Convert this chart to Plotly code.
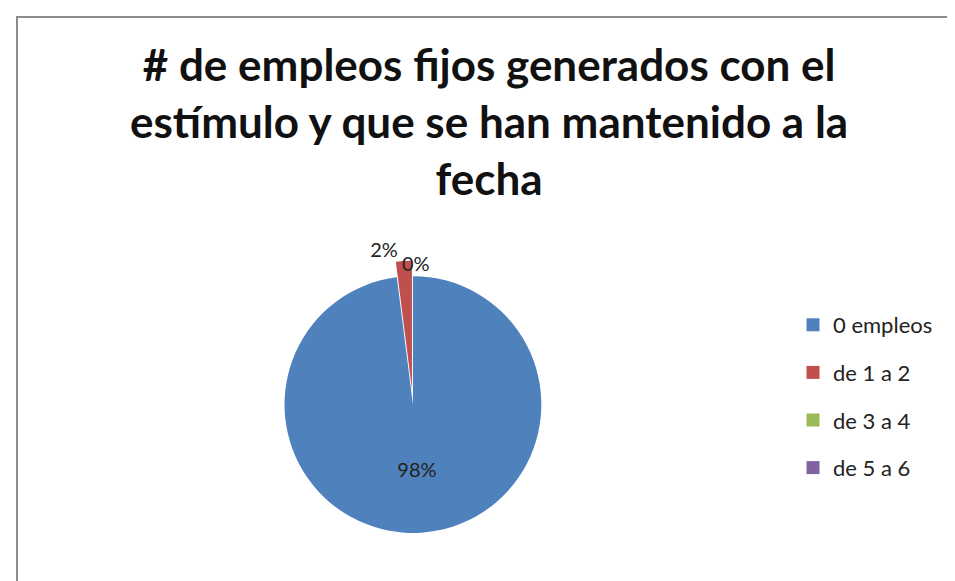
import plotly.graph_objects as go

categories = ["0 empleos", "de 1 a 2", "de 3 a 4", "de 5 a 6"]
values = [98, 2, 0, 0]
colors = ["#4F81BD", "#C0504D", "#9BBB59", "#8064A2"]
title_text = "<b># de empleos fijos generados con el<br>estímulo y que se han mantenido a la<br>fecha</b>"

FONT = "Lato, Open Sans, sans-serif"

fig = go.Figure()
fig.add_trace(go.Pie(
    labels=categories,
    values=values,
    sort=False,
    direction="clockwise",
    rotation=0,
    marker=dict(colors=colors, line=dict(color="#FFFFFF", width=0)),
    pull=[0, 0.12, 0, 0],
    texttemplate="%{percent:.0%}",
    textposition=["inside", "outside", "none", "none"],
    insidetextorientation="horizontal",
    textfont=dict(family=FONT, size=20, color="#222222"),
    outsidetextfont=dict(family=FONT, size=20, color="#222222"),
    domain=dict(x=[0.267, 0.581], y=[0.07, 0.565]),
    showlegend=False,
))

# legend entries (one group each so the gap between them can be set)
for cat, col in zip(categories, colors):
    fig.add_trace(go.Scatter(
        x=[None], y=[None], mode="markers", name=cat, legendgroup=cat,
        marker=dict(symbol="square", size=13, color=col),
        showlegend=True,
    ))

fig.update_layout(
    width=955, height=581,
    paper_bgcolor="white", plot_bgcolor="white",
    margin=dict(l=0, r=0, t=0, b=0),
    xaxis=dict(visible=False), yaxis=dict(visible=False),
    legend=dict(x=0.822, y=1 - 296 / 581, xanchor="left", yanchor="top",
                font=dict(family=FONT, size=22, color="#222222"),
                itemwidth=30, tracegroupgap=16, bgcolor="rgba(0,0,0,0)"),
    shapes=[dict(type="rect", xref="paper", yref="paper", x0=9 / 955, x1=1.01, y0=-0.01, y1=1 - 9 / 581,
                 line=dict(color="#8C8C8C", width=2))],
    annotations=[
        dict(text=title_text, x=0.504, y=1 - 28 / 581, xref="paper", yref="paper",
             xanchor="center", yanchor="top", showarrow=False, align="center",
             font=dict(family=FONT, size=44, color="#111111")),
        dict(text="0%", x=408 / 955, y=1 - 255 / 581, xref="paper", yref="paper",
             showarrow=False, font=dict(family=FONT, size=20, color="#222222")),
    ],
)

fig.write_html("out.html")
